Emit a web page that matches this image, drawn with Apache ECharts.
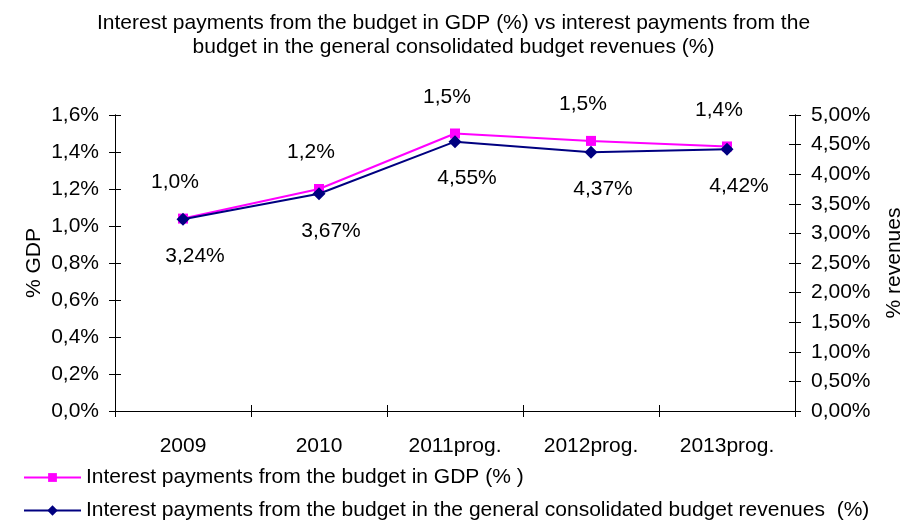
<!DOCTYPE html>
<html>
<head>
<meta charset="utf-8">
<script src="https://cdn.jsdelivr.net/npm/echarts@6/dist/echarts.min.js"></script>
<style>
  html, body { margin: 0; padding: 0; background: #fff; }
  #chart { width: 907px; height: 525px; }
</style>
</head>
<body>
<div id="chart"></div>
<script>
// Categories and series values (percent)
const years = ['2009', '2010', '2011prog.', '2012prog.', '2013prog.'];
const gdpShare = [1.04, 1.2, 1.5, 1.46, 1.43];
const revenueShare = [3.24, 3.67, 4.55, 4.37, 4.42];

const gdpName = 'Interest payments from the budget in GDP (% )';
const revName = 'Interest payments from the budget in the general consolidated budget revenues  (%)';

const sans = "'Liberation Sans', Arial, sans-serif";
const fs = 21;

const comma = (v, d) => v.toFixed(d).replace('.', ',');

const chart = echarts.init(document.getElementById('chart'), null, { renderer: 'canvas' });

const axisLine = { show: true, lineStyle: { color: '#000', width: 1 } };
const plotBox = { left: 115, right: 112, top: 115, bottom: 114, containLabel: false, outerBoundsMode: 'none' };
const legendText = { fontFamily: sans, fontSize: fs, color: '#000' };
const innerTick = { show: true, inside: true, length: 6, lineStyle: { color: '#000' } };
const outerTick = { show: true, length: 6, lineStyle: { color: '#000' } };

chart.setOption({
  backgroundColor: '#fff',
  animation: false,
  title: {
    text: 'Interest payments from the budget in GDP (%) vs interest payments from the\nbudget in the general consolidated budget revenues (%)',
    left: 'center',
    top: 6,
    textStyle: { fontFamily: sans, fontSize: fs, fontWeight: 'normal', color: '#000', lineHeight: 24 }
  },
  legend: [{
    left: 18, top: 462, itemWidth: 57, itemHeight: 11, itemGap: 6,
    textStyle: legendText, data: [gdpName]
  }, {
    left: 18, top: 495, itemWidth: 57, itemHeight: 13, itemGap: 6,
    textStyle: legendText, data: [revName]
  }],
  // main plot grid plus an overlay grid that carries the inward half of the tick marks
  grid: [Object.assign({}, plotBox), Object.assign({}, plotBox)],
  xAxis: [{
    type: 'category',
    gridIndex: 0,
    data: years,
    boundaryGap: true,
    axisLine: axisLine,
    axisTick: outerTick,
    axisLabel: { fontFamily: sans, fontSize: fs, color: '#000', margin: 25 },
    splitLine: { show: false }
  }, {
    type: 'category',
    gridIndex: 1,
    data: years,
    position: 'bottom',
    boundaryGap: true,
    axisLine: axisLine,
    axisTick: innerTick,
    axisLabel: { show: false },
    splitLine: { show: false }
  }],
  yAxis: [{
    type: 'value',
    gridIndex: 0,
    min: 0, max: 1.6, interval: 0.2,
    name: '% GDP',
    nameLocation: 'middle',
    nameGap: 70,
    nameMoveOverlap: false,
    nameTextStyle: { fontFamily: sans, fontSize: fs, color: '#000' },
    axisLine: axisLine,
    axisTick: outerTick,
    axisLabel: { fontFamily: sans, fontSize: fs, color: '#000', margin: 16, formatter: v => comma(v, 1) + '%' },
    splitLine: { show: false }
  }, {
    type: 'value',
    gridIndex: 0,
    position: 'right',
    min: 0, max: 5, interval: 0.5,
    name: '% revenues',
    nameLocation: 'middle',
    nameGap: 89,
    nameRotate: 90,
    nameTextStyle: { fontFamily: sans, fontSize: fs, color: '#000' },
    axisLine: axisLine,
    axisTick: outerTick,
    axisLabel: { fontFamily: sans, fontSize: fs, color: '#000', margin: 16, formatter: v => comma(v, 2) + '%' },
    splitLine: { show: false }
  }, {
    type: 'value',
    gridIndex: 1,
    position: 'left',
    min: 0, max: 1.6, interval: 0.2,
    axisLine: axisLine,
    axisTick: innerTick,
    axisLabel: { show: false },
    splitLine: { show: false }
  }, {
    type: 'value',
    gridIndex: 1,
    position: 'right',
    min: 0, max: 5, interval: 0.5,
    axisLine: axisLine,
    axisTick: innerTick,
    axisLabel: { show: false },
    splitLine: { show: false }
  }],
  series: [{
    name: gdpName,
    type: 'line',
    xAxisIndex: 0,
    yAxisIndex: 0,
    data: gdpShare,
    symbol: 'rect',
    symbolSize: 10,
    itemStyle: { color: '#FF00FF' },
    lineStyle: { color: '#FF00FF', width: 2 },
    label: {
      show: true,
      position: 'top',
      distance: 21,
      offset: [-8, 0],
      fontFamily: sans,
      fontSize: fs,
      color: '#000',
      formatter: p => comma(p.value, 1) + '%'
    },
    z: 2
  }, {
    name: revName,
    type: 'line',
    xAxisIndex: 0,
    yAxisIndex: 1,
    data: revenueShare,
    symbol: 'diamond',
    symbolSize: 13,
    itemStyle: { color: '#000080' },
    lineStyle: { color: '#000080', width: 2 },
    label: {
      show: true,
      position: 'bottom',
      distance: 20,
      offset: [12, 0],
      fontFamily: sans,
      fontSize: fs,
      color: '#000',
      formatter: p => comma(p.value, 2) + '%'
    },
    z: 3
  }]
});
</script>
</body>
</html>
